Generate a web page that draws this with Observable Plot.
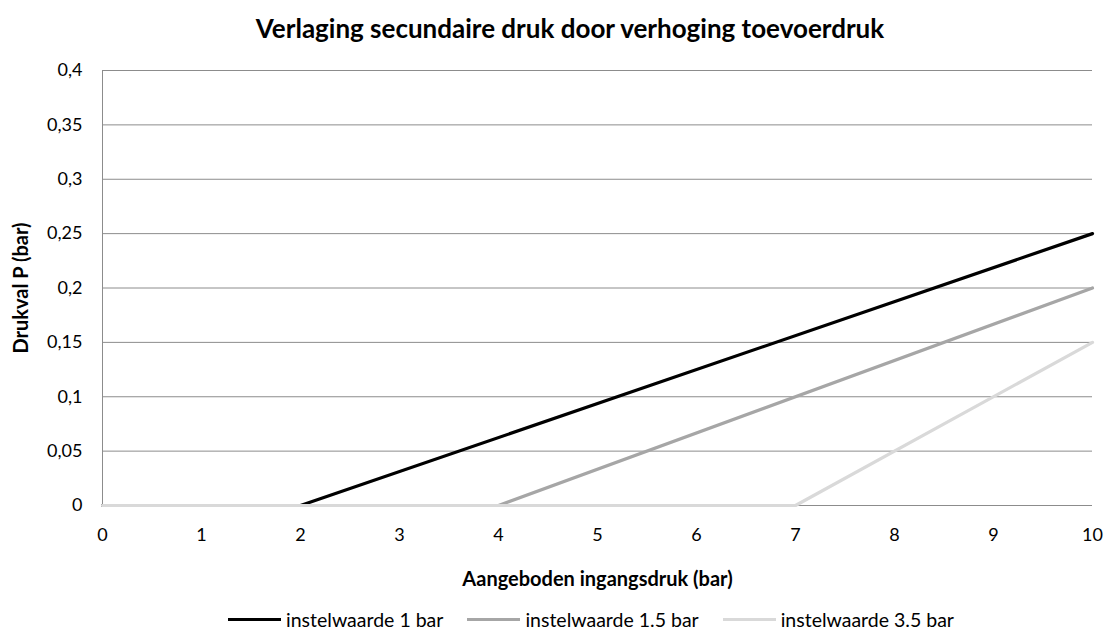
<!DOCTYPE html>
<html><head><meta charset="utf-8">
<script src="https://cdn.jsdelivr.net/npm/d3@7"></script>
<script src="https://cdn.jsdelivr.net/npm/@observablehq/plot@0.6"></script>
<style>
body{margin:0;background:#fff;font-family:Lato,"Open Sans",sans-serif;width:1112px;height:629px;overflow:hidden;}
#title{height:50px;line-height:56px;text-align:center;padding-left:28px;font-weight:bold;font-size:26px;color:#000;}
#chart{height:548px;}
#legend{height:31px;display:flex;justify-content:center;align-items:center;font-size:19.5px;padding-left:70px;color:#000;padding-top:12px;box-sizing:border-box;}
.item{display:flex;align-items:center;margin:0 12px;}
.swatch{width:53px;height:3.5px;margin-right:5px;}
svg text{font-family:Lato,"Open Sans",sans-serif !important;font-size:18px !important;}
g[aria-label="x-axis label"] text, g[aria-label="y-axis label"] text{font-weight:bold;font-size:20px !important;}
</style></head><body>
<div id="title">Verlaging secundaire druk door verhoging toevoerdruk</div>
<div id="chart"></div>
<div id="legend"></div>
<script>
const seriesNames = ["instelwaarde 1 bar", "instelwaarde 1.5 bar", "instelwaarde 3.5 bar"];
const seriesColors = ["#000000", "#a6a6a6", "#d9d9d9"];
const x1 = [0, 2, 10];  const y1 = [0, 0, 0.25];
const x2 = [0, 4, 10];  const y2 = [0, 0, 0.20];
const x3 = [0, 7, 10];  const y3 = [0, 0, 0.15];
const xTicks = [0, 1, 2, 3, 4, 5, 6, 7, 8, 9, 10];
const yTicks = [0, 0.05, 0.1, 0.15, 0.2, 0.25, 0.3, 0.35, 0.4];

const seriesX = [x1, x2, x3], seriesY = [y1, y2, y3];
const data = [];
seriesNames.forEach((name, i) => seriesX[i].forEach((x, j) => data.push({series: name, x, y: seriesY[i][j]})));

const plot = Plot.plot({
  width: 1112, height: 548,
  marginLeft: 102, marginRight: 20, marginTop: 20, marginBottom: 93,
  style: {fontSize: "18px", fontFamily: "Lato, sans-serif", color: "#000", background: "#fff"},
  x: {domain: [0, 10], ticks: xTicks, tickSize: 0, tickPadding: 23, label: "Aangeboden ingangsdruk (bar)", labelAnchor: "center", labelArrow: "none", labelOffset: 80},
  y: {domain: [0, 0.4], ticks: yTicks, tickSize: 0, tickPadding: 20, tickFormat: d => String(+d.toFixed(2)).replace(".", ","), label: "Drukval P (bar)", labelAnchor: "center", labelArrow: "none", labelOffset: 89},
  color: {domain: seriesNames, range: seriesColors},
  marks: [
    Plot.gridY(yTicks, {stroke: "#8c8c8c", strokeOpacity: 1}),
    Plot.ruleX([0], {stroke: "#8c8c8c"}),
    Plot.line(data, {x: "x", y: "y", z: "series", stroke: "series", strokeWidth: 3.2})
  ]
});
document.getElementById("chart").appendChild(plot);

const legend = document.getElementById("legend");
seriesNames.forEach((n, i) => {
  const it = document.createElement("div"); it.className = "item";
  const sw = document.createElement("div"); sw.className = "swatch"; sw.style.background = seriesColors[i];
  const tx = document.createElement("span"); tx.textContent = n;
  it.appendChild(sw); it.appendChild(tx); legend.appendChild(it);
});
</script>
</body></html>
